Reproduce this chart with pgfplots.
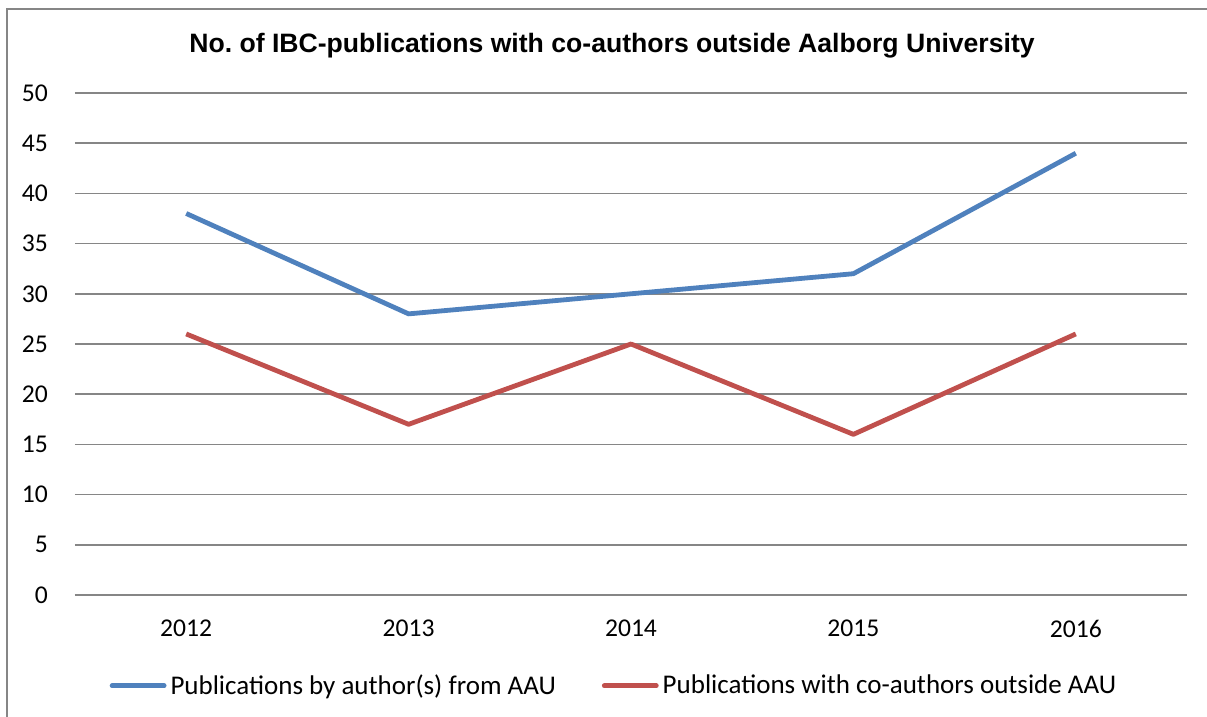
\documentclass[border=0pt]{standalone}
\usepackage{pgfplots}
\pgfplotsset{compat=1.18}
\usepackage{fontspec}
\setmainfont{Carlito}
\newfontfamily\titlefont{Liberation Sans}
\definecolor{aaublue}{RGB}{79,129,189}
\definecolor{aaured}{RGB}{192,80,77}
\definecolor{gridgray}{RGB}{134,134,134}
\begin{document}
\frenchspacing
\begin{tikzpicture}
\useasboundingbox (0,0) rectangle (603.5pt,358.5pt);
\draw[gridgray, line width=0.9pt] (3.5pt,-5pt) -- (3.5pt,354pt) -- (610pt,354pt);
\node[font=\titlefont\bfseries\fontsize{13.3}{15}\selectfont] at (306pt,335.5pt) {No.\ of IBC-publications with co-authors outside Aalborg University};
\begin{axis}[
  at={(37.5pt,61pt)}, anchor=south west,
  scale only axis, width=556pt, height=251pt,
  xmin=-0.5, xmax=4.5, ymin=0, ymax=50,
  xtick={0,1,2,3,4},
  xticklabels={2012,2013,2014,2015,2016},
  ytick={0,5,...,50},
  axis x line*=bottom, axis y line*=left,
  x axis line style={gridgray, line width=0.8pt, -},
  y axis line style={draw=none},
  ymajorgrids, grid style={gridgray, line width=0.8pt},
  major tick length=0pt,
  tick label style={font=\fontsize{12.8}{14}\selectfont},
  /pgf/number format/assume math mode=true,
  yticklabel style={anchor=east, xshift=-10pt},
  xticklabel style={yshift=-9pt},
  clip=false,
  legend columns=2,
  legend style={draw=none, fill=none, at={(0.4856,-0.181)}, anchor=center,
    font=\fontsize{13.5}{15}\selectfont,
    /tikz/every even column/.append style={column sep=21pt}},
  legend image code/.code={\draw[#1, line cap=round] (0pt,0pt) -- (26pt,0pt);},
]
\addplot[aaublue, line width=2.4pt, line join=round] coordinates {(0,38) (1,28) (2,30) (3,32) (4,44)};
\addlegendentry{Publications by author(s) from AAU}
\addplot[aaured, line width=2.4pt, line join=round] coordinates {(0,26) (1,17) (2,25) (3,16) (4,26)};
\addlegendentry{Publications with co-authors outside AAU}
\end{axis}
\end{tikzpicture}
\end{document}
